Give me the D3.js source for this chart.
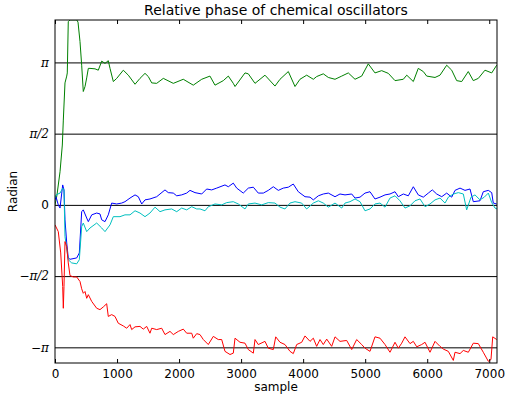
<!DOCTYPE html>
<html>
<head>
<script src="https://d3js.org/d3.v7.min.js"></script>
<style>
  body { margin: 0; background: #fff; }
  svg { display: block; }
  text { font-family: "DejaVu Sans", sans-serif; }
</style>
</head>
<body>
<svg id="chart" width="505" height="398"></svg>
<script>
// [sample, radian]
const green = [[0,0],[32,0.22],[81,0.73],[118,1.32],[134,1.87],[161,2.69],[189,2.84],[198,2.91],[214,4.04],[242,4.08],
  [350,4.08],[371,4.03],[403,3.60],[430,3.08],[456,2.50],[484,2.61],[511,2.80],[537,3.01],[564,3.01],[645,3.00],
  [698,2.97],[753,3.17],[806,3.12],[859,3.18],[887,3.01],[940,2.72],[995,2.79],[1101,2.97],[1182,2.86],[1290,2.66],
  [1370,2.79],[1451,2.90],[1504,2.83],[1559,2.69],[1639,2.68],[1746,2.79],[1907,2.68],[2068,2.77],[2229,2.64],[2365,2.77],
  [2498,2.84],[2579,2.64],[2713,2.74],[2794,2.84],[2874,2.68],[2902,2.61],[3063,2.91],[3116,2.89],[3224,2.68],[3385,2.86],
  [3546,2.62],[3627,2.77],[3761,2.94],[3869,2.61],[3949,2.77],[4057,2.86],[4164,2.77],[4218,2.83],[4325,2.89],[4406,2.81],
  [4514,2.77],[4622,2.84],[4728,2.91],[4836,2.77],[4944,2.84],[5050,3.11],[5158,2.91],[5266,2.96],[5373,2.90],[5481,2.74],
  [5615,2.77],[5670,2.86],[5776,2.72],[5856,3.01],[5937,2.94],[5992,2.84],[6126,2.81],[6206,2.86],[6314,3.08],[6395,2.97],
  [6475,2.74],[6556,2.72],[6662,2.94],[6743,2.74],[6824,2.79],[6931,2.97],[7040,2.91],[7120,3.08]];

const blue = [[0,0.11],[16,0.18],[53,0],[81,-0.07],[124,0.44],[145,0.33],[161,-0.33],[189,-0.84],[214,-1.17],[242,-1.20],
  [350,-1.17],[392,-1.06],[430,-0.15],[456,-0.11],[511,-0.29],[537,-0.37],[592,-0.22],[672,-0.18],[725,-0.20],[753,-0.33],
  [806,-0.37],[859,-0.22],[914,0.04],[995,0.02],[1075,0.04],[1128,0.07],[1209,0.15],[1290,0.22],[1343,0.18],[1398,0.02],
  [1451,0.11],[1531,0.13],[1639,0.18],[1773,0.33],[1826,0.27],[1907,0.26],[1962,0.20],[2042,0.22],[2123,0.26],[2176,0.32],
  [2257,0.27],[2365,0.24],[2445,0.35],[2526,0.33],[2607,0.37],[2740,0.44],[2794,0.40],[2874,0.48],[2929,0.37],[3035,0.26],
  [3116,0.37],[3197,0.39],[3277,0.26],[3358,0.26],[3438,0.32],[3519,0.40],[3600,0.32],[3680,0.37],[3761,0.39],[3841,0.46],
  [3922,0.29],[4030,0.18],[4111,0.17],[4164,0.11],[4245,0.20],[4325,0.24],[4406,0.26],[4514,0.18],[4594,0.24],[4675,0.22],
  [4783,0.24],[4836,0.15],[4917,0.17],[4997,0.26],[5078,0.29],[5158,0.13],[5239,0.17],[5320,0.22],[5400,0.24],[5481,0.29],
  [5534,0.18],[5615,0.24],[5695,0.20],[5776,0.40],[5856,0.22],[5937,0.17],[6018,0.26],[6082,0.33],[6153,0.24],[6234,0.18],
  [6314,0.26],[6395,0.17],[6448,0.32],[6529,0.37],[6609,0.32],[6690,0.35],[6743,0.07],[6851,0.09],[6904,0.29],[6985,0.32],
  [7040,0.27],[7065,0.04],[7120,0.02]];

const cyan = [[0,0.15],[16,0.22],[81,0.26],[124,0.37],[145,0.33],[161,-0.70],[214,-1.21],[269,-1.28],[350,-1.30],[392,-1.21],
  [430,-0.48],[456,-0.40],[511,-0.59],[564,-0.51],[672,-0.40],[753,-0.51],[806,-0.59],[887,-0.44],[940,-0.26],[1048,-0.26],
  [1128,-0.22],[1209,-0.22],[1290,-0.13],[1370,-0.18],[1451,-0.26],[1531,-0.18],[1612,-0.05],[1693,-0.15],[1773,-0.11],[1881,-0.09],
  [1962,-0.15],[2042,-0.07],[2123,-0.11],[2204,-0.04],[2284,-0.09],[2338,-0.09],[2418,-0.13],[2472,-0.04],[2579,0.02],[2687,0],
  [2767,0.05],[2874,0.07],[2955,0.02],[3063,-0.09],[3116,0.02],[3224,0.04],[3331,0],[3438,0.05],[3546,0.04],[3627,-0.05],
  [3707,-0.09],[3788,0.04],[3869,0.07],[3976,0.04],[4057,-0.09],[4164,0.04],[4245,0.09],[4325,0.04],[4406,-0.05],[4514,0.04],
  [4622,-0.07],[4675,0.04],[4755,0.07],[4836,0.13],[4917,0.07],[4997,-0.13],[5078,-0.09],[5158,0.02],[5239,0.04],[5320,-0.05],
  [5400,0.15],[5481,0.20],[5561,0.09],[5642,-0.07],[5723,-0.02],[5803,0.09],[5884,0.13],[5965,-0.04],[6045,0.02],[6126,0.11],
  [6206,0.15],[6287,0.04],[6341,0.17],[6421,0.24],[6502,0.27],[6582,0.24],[6636,-0.11],[6706,0.17],[6770,0.22],[6851,0.11],
  [6920,0.17],[6985,0.26],[7040,0.05],[7093,-0.07],[7125,-0.09]];

const red = [[0,-0.44],[53,-0.59],[92,-1.06],[124,-1.80],[134,-2.28],[145,-1.80],[161,-0.81],[189,-0.92],[214,-1.28],[242,-1.56],
  [295,-1.59],[350,-1.59],[403,-1.69],[430,-1.85],[456,-1.95],[484,-1.91],[511,-2.06],[537,-1.98],[592,-2.13],[672,-2.28],
  [725,-2.31],[779,-2.25],[833,-2.18],[859,-2.46],[914,-2.42],[967,-2.46],[1020,-2.61],[1101,-2.67],[1156,-2.72],[1209,-2.64],
  [1236,-2.75],[1290,-2.69],[1370,-2.68],[1423,-2.74],[1478,-2.68],[1531,-2.83],[1559,-2.72],[1639,-2.75],[1720,-2.72],[1773,-2.86],
  [1854,-2.79],[1907,-2.86],[1988,-2.79],[2068,-2.74],[2123,-2.83],[2204,-2.83],[2229,-2.94],[2284,-2.84],[2337,-2.86],[2391,-2.97],
  [2471,-3.08],[2552,-2.90],[2632,-2.97],[2687,-2.97],[2740,-3.23],[2821,-3.30],[2874,-3.27],[2902,-2.94],[2982,-3.03],[3063,-3.05],
  [3116,-3.19],[3197,-3.27],[3224,-2.97],[3277,-3.08],[3385,-3.01],[3438,-3.16],[3519,-3.19],[3558,-2.91],[3627,-3.03],[3707,-3.08],
  [3788,-3.23],[3841,-3.28],[3896,-3.08],[3977,-3.03],[4030,-2.89],[4111,-3.01],[4164,-2.94],[4218,-3.12],[4272,-2.97],[4325,-3.08],
  [4380,-2.96],[4460,-3.12],[4514,-2.91],[4594,-3.01],[4702,-2.99],[4783,-3.19],[4863,-2.97],[4944,-3.08],[4997,-3.16],[5078,-3.23],
  [5158,-2.91],[5239,-2.94],[5320,-3.08],[5400,-3.25],[5481,-3.03],[5534,-3.16],[5589,-3.05],[5642,-2.91],[5723,-3.06],[5776,-3.01],
  [5831,-3.13],[5911,-3.08],[5965,-3.03],[6045,-3.25],[6126,-3.01],[6206,-3.12],[6260,-3.18],[6340,-3.23],[6421,-3.43],[6448,-3.25],
  [6529,-3.28],[6582,-3.21],[6663,-3.25],[6743,-3.05],[6824,-3.06],[6904,-3.25],[6985,-3.45],[7028,-3.41],[7056,-2.91],[7120,-2.97]];

const xTicks = [0, 1000, 2000, 3000, 4000, 5000, 6000, 7000];
const yTicks = [-Math.PI, -Math.PI / 2, 0, Math.PI / 2, Math.PI];
const yTickLabels = ["−π", "−π/2", "0", "π/2", "π"];

var svg = d3.select("#chart");
var dims = { left: 55, top: 20, right: 497, bottom: 363 };

var x = d3.scaleLinear().domain([0, 7125]).range([dims.left, dims.right]);
var y = d3.scaleLinear().domain([-3.487, 4.077]).range([dims.bottom, dims.top]);

svg.append("defs").append("clipPath").attr("id", "plot")
  .append("rect")
  .attr("x", dims.left).attr("y", dims.top)
  .attr("width", dims.right - dims.left).attr("height", dims.bottom - dims.top);

// horizontal lines at multiples of pi/2
var hl = d3.axisLeft(y).tickValues(yTicks).tickSize(-(dims.right - dims.left)).tickFormat("");
svg.append("g")
  .attr("transform", "translate(" + dims.left + ",0)")
  .call(hl)
  .call(g => g.select(".domain").remove())
  .selectAll("line").attr("stroke", "#000").attr("stroke-width", 1);

// y tick labels
svg.append("g").selectAll("text")
  .data(yTicks)
  .enter().append("text")
  .attr("x", dims.left - 6)
  .attr("y", d => y(d))
  .attr("dy", "0.35em")
  .attr("text-anchor", "end")
  .attr("font-size", 12)
  .attr("fill", "#000")
  .style("font-family", (d, i) => yTickLabels[i] == "0" ? "'DejaVu Sans'" : "'DejaVu Serif'")
  .style("font-style", (d, i) => yTickLabels[i] == "0" ? "normal" : "italic")
  .text((d, i) => yTickLabels[i]);

// series
var line = d3.line().x(d => x(d[0])).y(d => y(d[1]));
var series = [
  { data: green, color: "#008000" },
  { data: blue, color: "#0000ff" },
  { data: cyan, color: "#00bfbf" },
  { data: red, color: "#ff0000" }
];
svg.append("g").attr("clip-path", "url(#plot)")
  .selectAll("path")
  .data(series)
  .enter().append("path")
  .attr("d", d => line(d.data))
  .attr("fill", "none")
  .attr("stroke", d => d.color)
  .attr("stroke-width", 1)
  .attr("stroke-linejoin", "round");

// x axes (ticks inside, top and bottom)
var xAxis = d3.axisBottom(x).tickValues(xTicks).tickFormat(d3.format("d"))
  .tickSizeInner(-4).tickSizeOuter(0).tickPadding(6);
svg.append("g")
  .attr("transform", "translate(0," + dims.bottom + ")")
  .call(xAxis)
  .call(g => g.select(".domain").remove())
  .call(g => g.selectAll("text").attr("font-size", 12).attr("fill", "#000").style("font-family", "'DejaVu Sans'"))
  .selectAll("line").attr("stroke", "#000");

var xTop = d3.axisTop(x).tickValues(xTicks).tickSizeInner(-4).tickSizeOuter(0).tickFormat("");
svg.append("g")
  .attr("transform", "translate(0," + dims.top + ")")
  .call(xTop)
  .call(g => g.select(".domain").remove())
  .selectAll("line").attr("stroke", "#000");

// frame
svg.append("rect")
  .attr("x", dims.left).attr("y", dims.top)
  .attr("width", dims.right - dims.left).attr("height", dims.bottom - dims.top)
  .attr("fill", "none").attr("stroke", "#000").attr("stroke-width", 1);

// texts
svg.append("text")
  .attr("x", (dims.left + dims.right) / 2).attr("y", 15)
  .attr("text-anchor", "middle").attr("font-size", 14)
  .text("Relative phase of chemical oscillators");

svg.append("text")
  .attr("x", (dims.left + dims.right) / 2).attr("y", 391)
  .attr("text-anchor", "middle").attr("font-size", 12)
  .text("sample");

svg.append("text")
  .attr("transform", "translate(17," + (dims.top + dims.bottom) / 2 + ") rotate(-90)")
  .attr("text-anchor", "middle").attr("font-size", 12)
  .text("Radian");
</script>
</body>
</html>
